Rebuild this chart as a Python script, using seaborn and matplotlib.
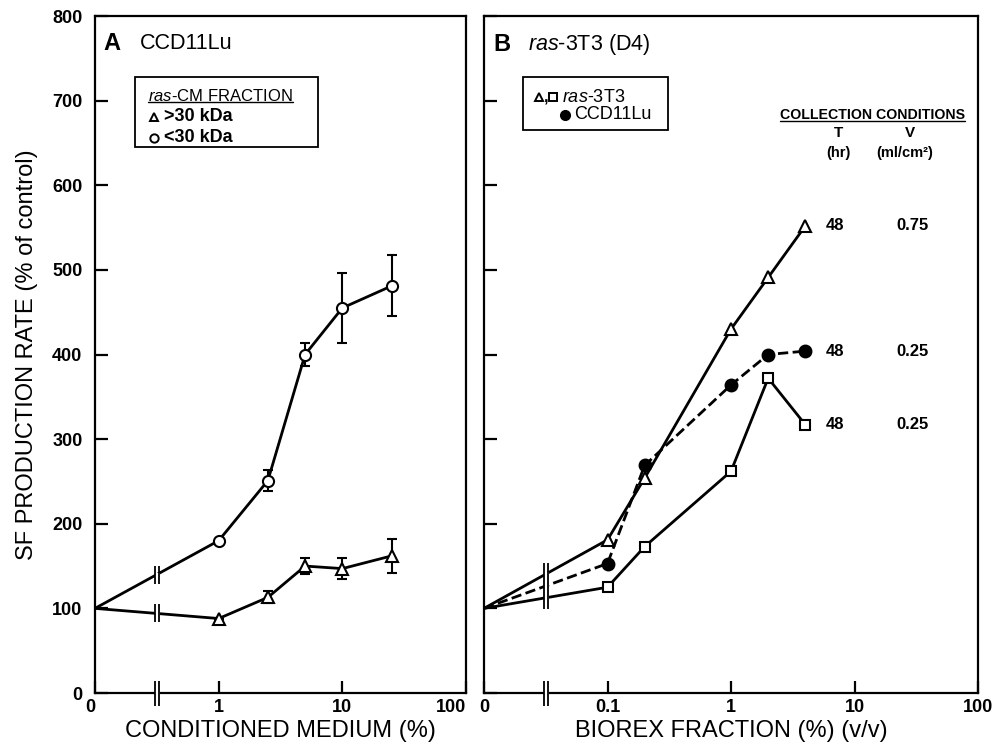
import numpy as np
import matplotlib
matplotlib.use("Agg")
import matplotlib.pyplot as plt
import seaborn as sns
from matplotlib.path import Path
from matplotlib.markers import MarkerStyle
from matplotlib.lines import Line2D
from matplotlib.patches import Rectangle
from matplotlib.transforms import IdentityTransform

# ---------------- data ----------------
conc_A = [0, 1, 2.5, 5, 10, 25]
above30_A = [100, 88, 113, 150, 147, 162]
above30_err = [0, 0, 7, 9, 12, 20]
below30_A = [100, 180, 251, 400, 455, 481]
below30_err = [0, 0, 12, 14, 41, 36]

conc_B = [0, 0.1, 0.2, 1, 2, 4]
ras_tri_B = [100, 181, 254, 430, 491, 552]
ccd_circ_B = [100, 153, 269, 364, 400, 404]
ras_sq_B = [100, 125, 173, 262, 372, 317]

cond_T = ["48", "48", "48"]
cond_V = ["0.75", "0.25", "0.25"]

y_ticks = [0, 100, 200, 300, 400, 500, 600, 700, 800]
y_ticklabels = ["0", "100", "200", "300", "400", "500", "600", "700", "800"]
xticks_A = [1, 10]
xlabels_A = ["1", "10"]
xticks_B = [0.1, 1, 10]
xlabels_B = ["0.1", "1", "10"]

# ---------------- style ----------------
sns.set_style("ticks")
plt.rcParams["font.family"] = ["Liberation Sans", "DejaVu Sans"]
plt.rcParams["mathtext.fontset"] = "custom"
plt.rcParams["mathtext.rm"] = "Liberation Sans"
plt.rcParams["mathtext.it"] = "Liberation Sans:italic"
plt.rcParams["mathtext.bf"] = "Liberation Sans:bold"
for k in ["text.color", "axes.labelcolor", "xtick.color", "ytick.color",
          "axes.edgecolor"]:
    plt.rcParams[k] = "black"

LW = 2.0
SPW = 1.6

fig = plt.figure(figsize=(9.92, 7.48), dpi=100)
W, H = 992, 748
axA = fig.add_axes([95 / W, 1 - 693 / H, 371 / W, 677 / H])
axB = fig.add_axes([484 / W, 1 - 693 / H, 494 / W, 677 / H])

ZERO_A, ZERO_B = 0.1, 0.01
TOP_A, TOP_B = 100, 100


def pos(c, zero):
    return [zero if v == 0 else v for v in c]


def break_marker(height_pt, sep_pt):
    x = sep_pt / height_pt
    verts = [(-x, -1), (-x, 1), (x, -1), (x, 1)]
    codes = [Path.MOVETO, Path.LINETO, Path.MOVETO, Path.LINETO]
    return MarkerStyle(Path(verts, codes))


for ax, zero, top in [(axA, ZERO_A, TOP_A), (axB, ZERO_B, TOP_B)]:
    ax.set_xscale("log")
    ax.set_xlim(zero, top)
    ax.set_ylim(0, 800)
    for s in ax.spines.values():
        s.set_visible(True)
        s.set_linewidth(SPW)
        s.set_color("black")
    ax.set_yticks(y_ticks)
    ax.tick_params(axis="both", which="both", direction="in", length=9,
                   width=SPW, colors="black")
    ax.tick_params(axis="x", which="minor", length=0)
    ax.tick_params(axis="y", pad=9)
    ax.tick_params(axis="x", pad=4)
    ax.set_facecolor("white")

axA.set_yticklabels(y_ticklabels, fontsize=13, fontweight="bold")
axB.set_yticklabels([])

axA.set_xticks([ZERO_A] + xticks_A + [TOP_A])
axA.set_xticklabels(["0"] + xlabels_A + ["100"], fontsize=13, fontweight="bold")
axB.set_xticks([ZERO_B] + xticks_B + [TOP_B])
axB.set_xticklabels(["0"] + xlabels_B + ["100"], fontsize=13, fontweight="bold")
axA.get_xticklabels()[0].set_horizontalalignment("right")
axA.get_xticklabels()[-1].set_horizontalalignment("right")

axA.set_xlabel("CONDITIONED MEDIUM (%)", fontsize=17, labelpad=3, color="black")
axB.set_xlabel("BIOREX FRACTION (%) (v/v)", fontsize=17, labelpad=3, color="black")
axA.set_ylabel("SF PRODUCTION RATE (% of control)", fontsize=17, labelpad=10,
               color="black")


def draw_series(ax, x, y, err, marker, ms, face, ls="-", dashes=None):
    kw = dict(color="black", linewidth=LW, marker=marker, markersize=ms,
              markerfacecolor=face, markeredgecolor="black", markeredgewidth=1.5,
              markevery=list(range(1, len(x))), zorder=4, sort=False)
    if dashes is not None:
        kw["dashes"] = dashes
    sns.lineplot(x=x, y=y, ax=ax, linestyle=ls, **kw)
    if err is not None:
        ax.errorbar(x[1:], y[1:], yerr=err[1:], fmt="none", ecolor="black",
                    elinewidth=1.5, capsize=3.5, capthick=1.5, zorder=3)


xA = pos(conc_A, ZERO_A)
xB = pos(conc_B, ZERO_B)
draw_series(axA, xA, below30_A, below30_err, "o", 8, "white")
draw_series(axA, xA, above30_A, above30_err, "^", 8, "white")
draw_series(axB, xB, ras_tri_B, None, "^", 8, "white")
draw_series(axB, xB, ras_sq_B, None, "s", 7, "white")
draw_series(axB, xB, ccd_circ_B, None, "o", 8.5, "black", ls="--", dashes=(3.2, 2))


def y_at_break(x, y, xb):
    return float(np.interp(np.log10(xb), np.log10([x[0], x[1]]), [y[0], y[1]]))


# breaks panel A
xbA = np.sqrt(ZERO_A * xticks_A[0])
for ys in [below30_A, above30_A]:
    yb = y_at_break(xA, ys, xbA)
    axA.plot([xbA], [yb], marker="s", markersize=3.6, color="white",
             markeredgewidth=0, linestyle="none", zorder=5)
    axA.plot([xbA], [yb], marker=break_marker(13, 2.2), markersize=13,
             markeredgecolor="black", markeredgewidth=1.3, linestyle="none", zorder=6)

# breaks panel B
xbB = np.sqrt(ZERO_B * xticks_B[0])
ybs = [y_at_break(xB, ys, xbB) for ys in [ras_tri_B, ccd_circ_B, ras_sq_B]]
for yb in ybs:
    axB.plot([xbB], [yb], marker="s", markersize=3.6, color="white",
             markeredgewidth=0, linestyle="none", zorder=5)
fig.canvas.draw()
p0 = axB.transData.transform((xbB, min(ybs)))[1]
p1 = axB.transData.transform((xbB, max(ybs)))[1]
hB = (p1 - p0) * 72 / 100 + 16
axB.plot([xbB], [np.mean(ybs)], marker=break_marker(hB, 2.2), markersize=hB,
         markeredgecolor="black", markeredgewidth=1.3, linestyle="none", zorder=6)

# axis breaks
for ax, xb in [(axA, xbA), (axB, xbB)]:
    ax.plot([xb], [0], marker="s", markersize=3.6, color="white",
            markeredgewidth=0, linestyle="none", zorder=7, clip_on=False)
    ax.plot([xb], [0], marker=break_marker(18, 2.2), markersize=18,
            markeredgecolor="black", markeredgewidth=1.3, linestyle="none",
            zorder=8, clip_on=False)

# panel titles
axA.text(0.022, 0.960, "A", transform=axA.transAxes, fontsize=17,
         fontweight="bold", va="center", ha="left")
axA.text(0.121, 0.960, "CCD11Lu", transform=axA.transAxes, fontsize=15.5,
         va="center", ha="left")
axB.text(0.018, 0.958, "B", transform=axB.transAxes, fontsize=17,
         fontweight="bold", va="center", ha="left")
axB.text(0.089, 0.958, r"$\mathit{ras}$-3T3 (D4)", transform=axB.transAxes,
         fontsize=15.5, va="center", ha="left")

# legend A
axA.add_patch(Rectangle((0.108, 0.806), 0.601 - 0.108, 0.910 - 0.806,
                        transform=axA.transAxes, facecolor="white",
                        edgecolor="black", linewidth=1.3, zorder=10))
tA = axA.text(0.143, 0.882, r"$\mathit{ras}$-CM FRACTION", transform=axA.transAxes,
              fontsize=12, va="center", ha="left", zorder=11)
axA.plot([0.160], [0.851], marker="^", markersize=6, markerfacecolor="white",
         markeredgecolor="black", markeredgewidth=1.4, transform=axA.transAxes,
         linestyle="none", zorder=11)
axA.text(0.186, 0.851, ">30 kDa", transform=axA.transAxes, fontsize=13,
         fontweight="bold", va="center", ha="left", zorder=11)
axA.plot([0.160], [0.820], marker="o", markersize=6, markerfacecolor="white",
         markeredgecolor="black", markeredgewidth=1.4, transform=axA.transAxes,
         linestyle="none", zorder=11)
axA.text(0.186, 0.820, "<30 kDa", transform=axA.transAxes, fontsize=13,
         fontweight="bold", va="center", ha="left", zorder=11)

# legend B
axB.add_patch(Rectangle((0.079, 0.832), 0.372 - 0.079, 0.910 - 0.832,
                        transform=axB.transAxes, facecolor="white",
                        edgecolor="black", linewidth=1.3, zorder=10))
axB.plot([0.112], [0.881], marker="^", markersize=6, markerfacecolor="white",
         markeredgecolor="black", markeredgewidth=1.4, transform=axB.transAxes,
         linestyle="none", zorder=11)
axB.text(0.1215, 0.879, ",", transform=axB.transAxes, fontsize=12,
         fontweight="bold", va="center", ha="left", zorder=11)
axB.plot([0.140], [0.881], marker="s", markersize=5.5, markerfacecolor="white",
         markeredgecolor="black", markeredgewidth=1.4, transform=axB.transAxes,
         linestyle="none", zorder=11)
axB.text(0.158, 0.880, r"$\mathit{ras}$-3T3", transform=axB.transAxes, fontsize=13,
         va="center", ha="left", zorder=11)
axB.plot([0.164], [0.854], marker="o", markersize=7, markerfacecolor="black",
         markeredgecolor="black", transform=axB.transAxes,
         linestyle="none", zorder=11)
axB.text(0.182, 0.854, "CCD11Lu", transform=axB.transAxes, fontsize=13,
         va="center", ha="left", zorder=11)

# collection conditions
tC = axB.text(0.786, 0.854, "COLLECTION CONDITIONS", transform=axB.transAxes,
              fontsize=10.2, fontweight="bold", va="center", ha="center")
axB.text(0.717, 0.827, "T", transform=axB.transAxes, fontsize=11,
         fontweight="bold", va="center", ha="center")
axB.text(0.862, 0.827, "V", transform=axB.transAxes, fontsize=11,
         fontweight="bold", va="center", ha="center")
axB.text(0.717, 0.798, "(hr)", transform=axB.transAxes, fontsize=10.5,
         fontweight="bold", va="center", ha="center")
axB.text(0.852, 0.798, "(ml/cm²)", transform=axB.transAxes, fontsize=10.5,
         fontweight="bold", va="center", ha="center")

blend = matplotlib.transforms.blended_transform_factory(axB.transAxes, axB.transData)
for yv, t, v in zip([ras_tri_B[-1], ccd_circ_B[-1], ras_sq_B[-1]], cond_T, cond_V):
    axB.text(0.711, yv, t, transform=blend, fontsize=12, fontweight="bold",
             va="center", ha="center")
    axB.text(0.868, yv, v, transform=blend, fontsize=12, fontweight="bold",
             va="center", ha="center")

# underlines
fig.canvas.draw()
rend = fig.canvas.get_renderer()
for t, off in [(tA, 1.5), (tC, 1.0)]:
    bb = t.get_window_extent(renderer=rend)
    fig.add_artist(Line2D([bb.x0, bb.x1], [bb.y0 + off, bb.y0 + off],
                          transform=IdentityTransform(), color="black",
                          linewidth=1.0, zorder=12))

fig.savefig("out.png", dpi=100, facecolor="white")
